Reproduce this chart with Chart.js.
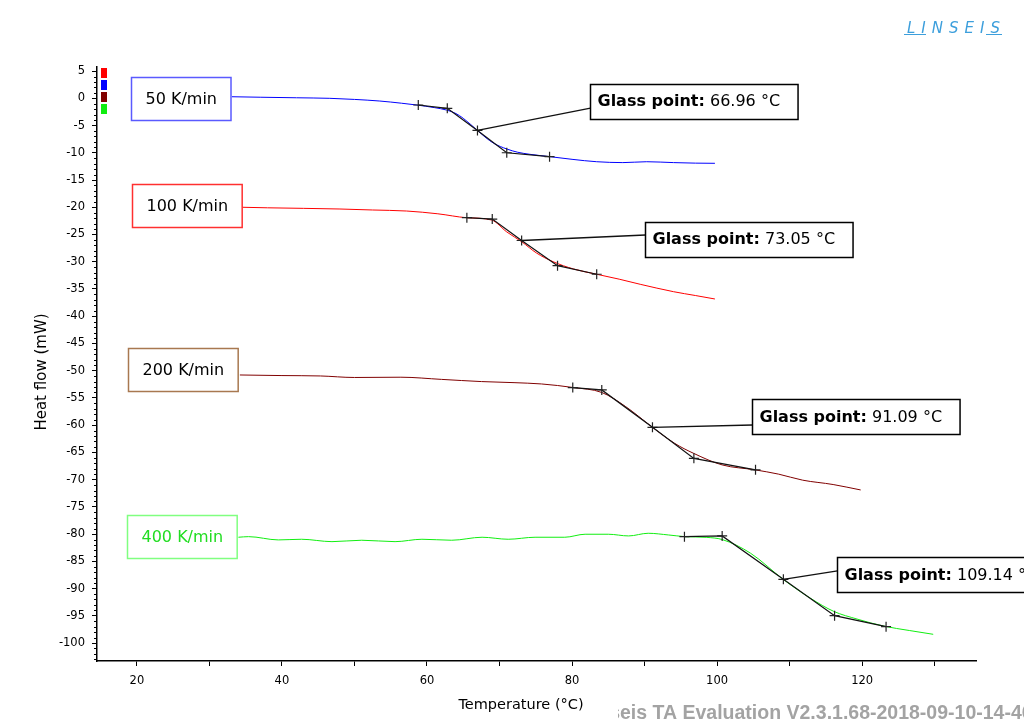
<!DOCTYPE html>
<html>
<head>
<meta charset="utf-8">
<script src="https://cdn.jsdelivr.net/npm/chart.js@4.4.1/dist/chart.umd.min.js"></script>
<style>
html, body { margin: 0; padding: 0; background: #fff; }
canvas { display: block; }
</style>
</head>
<body>
<canvas id="chart" width="1024" height="728"></canvas>
<script>
// heating rates
const rates = ['50 K/min', '100 K/min', '200 K/min', '400 K/min'];
const glassT = [66.96, 73.05, 91.09, 109.14];

// measured curves (temperature in °C, heat flow in mW)
const t50 = [33.1, 37, 42, 46.6, 50, 53.5, 56.5, 58.6, 61, 62.7, 64, 65.0, 66.9, 68, 69.2, 71.0, 72.5, 74.2, 77.0, 80, 83.4, 87, 90.3, 94, 97, 99.7];
const hf50 = [0.29, 0.2, 0.1, 0, -0.2, -0.5, -0.9, -1.23, -1.7, -2.15, -2.8, -3.67, -5.82, -7.1, -8.26, -9.3, -9.9, -10.28, -10.72, -11.2, -11.64, -11.8, -11.64, -11.8, -11.9, -11.93];

const t100 = [34.5, 38, 43, 48.0, 52.5, 57.2, 61.5, 65.5, 68.9, 71.0, 73.1, 75.1, 77.4, 80.2, 83.4, 86.5, 89.4, 94.0, 97, 99.7];
const hf100 = [-20.0, -20.1, -20.2, -20.32, -20.5, -20.69, -21.2, -21.92, -22.34, -24.53, -26.37, -28.4, -30.0, -31.33, -32.3, -33.2, -34.14, -35.5, -36.2, -36.84];

const t200 = [34.2, 40, 45.3, 50, 56.4, 62, 67.5, 72, 75.8, 80.2, 84.1, 87.4, 91.0, 94.1, 96.8, 100.7, 105.2, 108.5, 111.8, 116, 119.8];
const hf200 = [-50.79, -50.9, -50.97, -51.25, -51.2, -51.6, -52.0, -52.2, -52.44, -53.1, -54.0, -56.6, -60.3, -63.3, -65.2, -67.3, -68.2, -69.0, -70.1, -70.9, -71.9];

const t400 = [34.0, 35.4, 39.5, 42.7, 46.9, 51.0, 55.6, 59.3, 63.4, 67.6, 71.2, 74.9, 79.0, 81.8, 85.0, 87.8, 90.5, 93.3, 95.6, 98.5, 100.7, 104.6, 109.2, 112.9, 116.1, 119.3, 123.0, 126.5, 129.8];
const hf400 = [-80.58, -80.47, -81.07, -80.95, -81.39, -81.13, -81.39, -80.95, -81.13, -80.58, -80.95, -80.58, -80.58, -80.03, -80.03, -80.34, -79.85, -80.16, -80.47, -80.6, -81.0, -83.5, -88.4, -91.8, -94.2, -95.6, -96.9, -97.7, -98.4];

// tangent construction points (onset, start of step, glass point, end of step, end)
const tanT50 = [58.8, 62.8, 66.96, 71.0, 76.9];
const tanHF50 = [-1.23, -1.84, -5.9, -9.99, -10.72];
const tanT100 = [65.5, 69.0, 73.05, 78.0, 83.4];
const tanHF100 = [-21.92, -22.16, -26.1, -30.73, -32.3];
const tanT200 = [80.1, 84.1, 91.09, 96.8, 105.3];
const tanHF200 = [-53.1, -53.54, -60.4, -66.1, -68.2];
const tanT400 = [95.5, 100.7, 109.14, 116.2, 123.3];
const tanHF400 = [-80.47, -80.34, -88.3, -94.97, -97.0];

// axis ticks
const xMajorTicks = [20, 40, 60, 80, 100, 120];
const xMinorTicks = [30, 50, 70, 90, 110, 130];
const yTicks = [5, 0, -5, -10, -15, -20, -25, -30, -35, -40, -45, -50, -55, -60, -65, -70, -75, -80, -85, -90, -95, -100];

const colors = ['#0000ff', '#ff0000', '#800000', '#11ee11'];
const FONT = '"DejaVu Sans", Verdana, sans-serif';

function pts(xs, ys) {
    return xs.map((x, i) => ({x: x, y: ys[i]}));
}

const curves = [[t50, hf50], [t100, hf100], [t200, hf200], [t400, hf400]];
const tangents = [[tanT50, tanHF50], [tanT100, tanHF100], [tanT200, tanHF200], [tanT400, tanHF400]];

const datasets = [];
tangents.forEach(function (tg) {
    datasets.push({
        data: pts(tg[0], tg[1]),
        showLine: true,
        borderColor: '#111',
        borderWidth: 1.2,
        pointStyle: 'cross',
        pointRadius: 5,
        pointBorderColor: '#222',
        pointBorderWidth: 1.2,
        tension: 0,
        order: 0
    });
});
curves.forEach(function (c, i) {
    datasets.push({
        data: pts(c[0], c[1]),
        showLine: true,
        borderColor: colors[i],
        borderWidth: 1,
        pointRadius: 0,
        cubicInterpolationMode: 'monotone',
        order: 1
    });
});

// everything that is not a mark: boxes, leaders, titles, minor ticks
const decoPlugin = {
    id: 'deco',
    afterDraw(chart, args, opts) {
        const ctx = chart.ctx;
        const xs = chart.scales.x, ys = chart.scales.y;
        const area = chart.chartArea;
        ctx.save();

        // minor ticks on the heat flow axis
        ctx.strokeStyle = '#000';
        ctx.lineWidth = 1;
        for (let v = Math.ceil(ys.min); v <= ys.max; v++) {
            if (v % 5 === 0) continue;
            const py = Math.round(ys.getPixelForValue(v)) + 0.5;
            ctx.beginPath();
            ctx.moveTo(area.left - 3, py);
            ctx.lineTo(area.left, py);
            ctx.stroke();
        }

        // coloured series marks, top left
        const swatchOrder = [1, 0, 2, 3];
        swatchOrder.forEach(function (s, k) {
            ctx.fillStyle = colors[s];
            ctx.fillRect(area.left + 4, area.top + 1 + k * 12, 6, 10);
        });

        // heating-rate boxes
        ctx.font = '16px ' + FONT;
        ctx.textBaseline = 'middle';
        opts.rateBoxes.forEach(function (b, i) {
            const w = ctx.measureText(rates[i]).width + 28;
            const x0 = Math.round(xs.getPixelForValue(b.t)) + 0.5;
            const yc = ys.getPixelForValue(b.hf);
            const y0 = Math.round(yc - 21.5) + 0.5;
            ctx.fillStyle = '#fff';
            ctx.fillRect(x0, y0, w, 43);
            ctx.strokeStyle = b.border;
            ctx.lineWidth = 1.5;
            ctx.strokeRect(x0, y0, w, 43);
            ctx.fillStyle = b.text;
            ctx.textAlign = 'center';
            ctx.fillText(rates[i], x0 + w / 2, yc + 1);
        });

        // glass point boxes with leader lines
        opts.glassBoxes.forEach(function (b, i) {
            const tg = tangents[i];
            const gx = xs.getPixelForValue(glassT[i]);
            const gy = ys.getPixelForValue(tg[1][2]);
            const x0 = Math.round(xs.getPixelForValue(b.t)) + 0.5;
            const yc = ys.getPixelForValue(b.hf);
            const ly = ys.getPixelForValue(b.leader);
            ctx.strokeStyle = '#111';
            ctx.lineWidth = 1.3;
            ctx.beginPath();
            ctx.moveTo(gx, gy);
            ctx.lineTo(x0, ly);
            ctx.stroke();

            ctx.font = 'bold 16px ' + FONT;
            const lab = 'Glass point:';
            const wl = ctx.measureText(lab).width;
            ctx.font = '16px ' + FONT;
            const val = ' ' + glassT[i].toFixed(2) + ' \u00B0C';
            const wv = ctx.measureText(val).width;
            const w = wl + wv + 25;
            const y0 = Math.round(yc - 17.5) + 0.5;
            ctx.fillStyle = '#fff';
            ctx.fillRect(x0, y0, w, 35);
            ctx.strokeStyle = '#000';
            ctx.lineWidth = 1.5;
            ctx.strokeRect(x0, y0, w, 35);
            ctx.fillStyle = '#000';
            ctx.textAlign = 'left';
            ctx.font = 'bold 16px ' + FONT;
            ctx.fillText(lab, x0 + 7, yc + 1);
            ctx.font = '16px ' + FONT;
            ctx.fillText(val, x0 + 7 + wl, yc + 1);
        });

        // axis titles
        ctx.fillStyle = '#000';
        ctx.font = '14.5px ' + FONT;
        ctx.textAlign = 'center';
        ctx.fillText('Temperature (\u00B0C)', 521, 705);
        ctx.save();
        ctx.translate(42, 372);
        ctx.rotate(-Math.PI / 2);
        ctx.font = '15px ' + FONT;
        ctx.fillText('Heat flow (mW)', 0, 0);
        ctx.restore();

        // software watermark, partly hidden on the left
        ctx.save();
        ctx.beginPath();
        ctx.rect(618, 690, 406, 38);
        ctx.clip();
        ctx.font = 'bold 19.5px "Liberation Sans", Arial, sans-serif';
        ctx.fillStyle = '#a3a3a3';
        ctx.textAlign = 'left';
        ctx.textBaseline = 'alphabetic';
        const lead = ctx.measureText('Lins').width;
        ctx.fillText('Linseis TA Evaluation V2.3.1.68-2018-09-10-14-46', 620 - lead, 719);
        ctx.restore();

        // maker logo
        ctx.font = 'italic 15px ' + FONT;
        ctx.fillStyle = '#3d9fdc';
        ctx.textAlign = 'left';
        ctx.textBaseline = 'alphabetic';
        ctx.letterSpacing = '6px';
        ctx.fillText('LINSEIS', 907, 33);
        ctx.letterSpacing = '0px';
        ctx.strokeStyle = '#3d9fdc';
        ctx.lineWidth = 1;
        ctx.beginPath();
        ctx.moveTo(904, 34.5);
        ctx.lineTo(926, 34.5);
        ctx.moveTo(986, 34.5);
        ctx.lineTo(1002, 34.5);
        ctx.stroke();

        ctx.restore();
    }
};

const ctx = document.getElementById('chart');
const myChart = new Chart(ctx, {
    type: 'scatter',
    data: { datasets: datasets },
    plugins: [decoPlugin],
    options: {
        responsive: false,
        animation: false,
        layout: { padding: { left: 0, top: 67, right: 48, bottom: 0 } },
        plugins: {
            legend: { display: false },
            tooltip: { enabled: false },
            deco: {
                rateBoxes: [
                    { t: 19.19, hf: -0.04, border: '#5a5aff', text: '#000' },
                    { t: 19.37, hf: -19.73, border: '#ff3030', text: '#000' },
                    { t: 18.77, hf: -49.87, border: '#a87850', text: '#000' },
                    { t: 18.63, hf: -80.52, border: '#80ff80', text: '#22dd22' }
                ],
                glassBoxes: [
                    { t: 82.5, hf: -0.5, leader: -1.78 },
                    { t: 90.07, hf: -25.86, leader: -25.09 },
                    { t: 104.84, hf: -58.5, leader: -59.97 },
                    { t: 116.57, hf: -87.4, leader: -86.77 }
                ]
            }
        },
        scales: {
            x: {
                type: 'linear',
                min: 14.5,
                max: 135.7,
                afterFit: (s) => { s.height = 67; },
                afterBuildTicks: (s) => {
                    s.ticks = xMajorTicks.concat(xMinorTicks).sort((a, b) => a - b).map(v => ({ value: v }));
                },
                border: { display: true, color: '#000', width: 1.5 },
                grid: { drawOnChartArea: false, drawTicks: true, tickLength: 5, color: '#000', lineWidth: 1 },
                ticks: {
                    autoSkip: false,
                    maxRotation: 0,
                    padding: 8,
                    color: '#000',
                    font: { family: FONT, size: 11.5 },
                    callback: (v) => xMajorTicks.includes(v) ? String(v) : ''
                }
            },
            y: {
                type: 'linear',
                min: -103.3,
                max: 5.75,
                afterFit: (s) => { s.width = 97; },
                afterBuildTicks: (s) => {
                    s.ticks = yTicks.map(v => ({ value: v }));
                },
                border: { display: true, color: '#000', width: 1.5 },
                grid: { drawOnChartArea: false, drawTicks: true, tickLength: 5, color: '#000', lineWidth: 1 },
                ticks: {
                    autoSkip: false,
                    padding: 7,
                    color: '#000',
                    font: { family: FONT, size: 11.5 },
                    callback: (v) => String(v)
                }
            }
        }
    }
});
</script>
</body>
</html>
